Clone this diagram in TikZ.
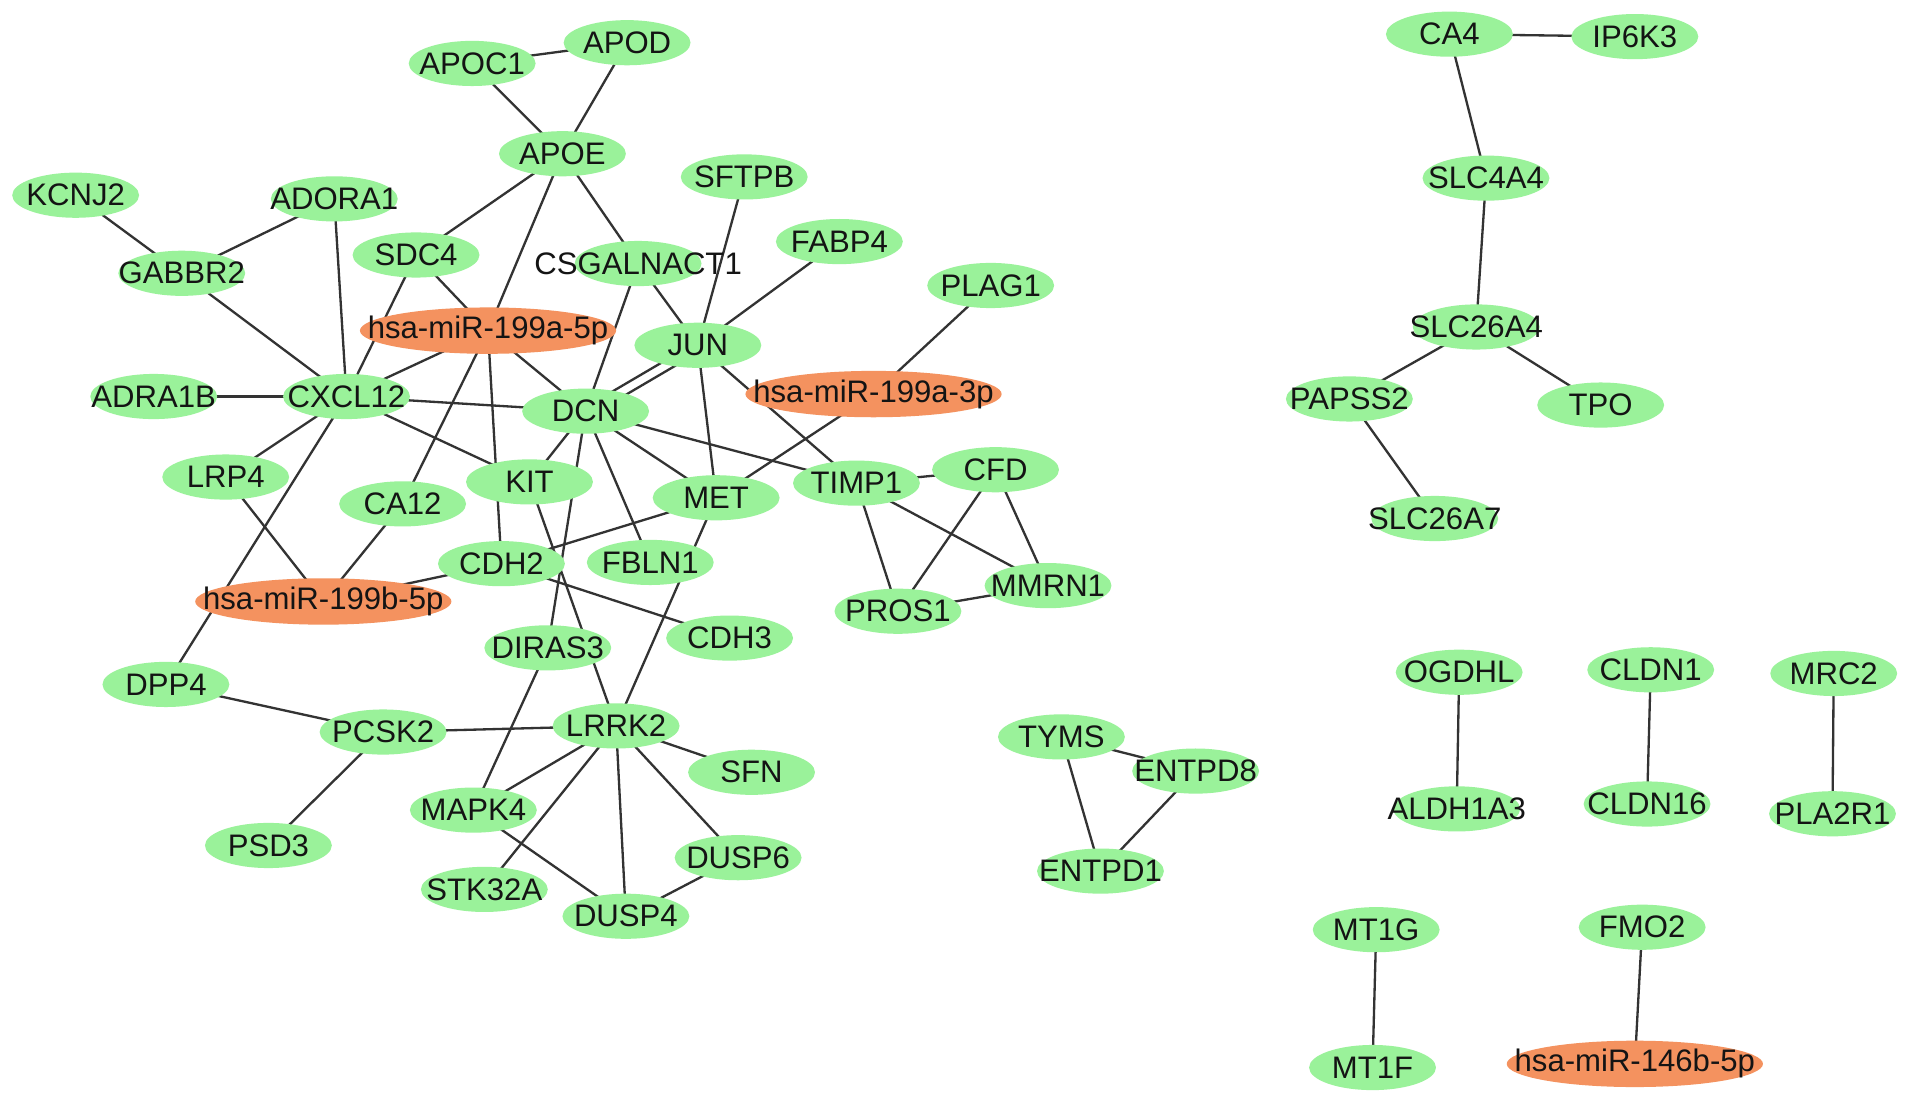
\documentclass[tikz,border=0pt]{standalone}
\usepackage{fontspec}
\setmainfont{Liberation Sans}
\usetikzlibrary{shapes.geometric,backgrounds}
\definecolor{gfill}{HTML}{9AF29A}
\definecolor{ofill}{HTML}{F4925F}
\definecolor{edgec}{HTML}{333333}
\newcommand{\Lb}[1]{\makebox[0pt]{#1}}
\tikzset{
  gn/.style={ellipse, fill=gfill, draw=none, minimum width=104pt, minimum height=37pt, inner sep=0pt, font=\fontsize{25.5}{29}\selectfont, text=black!92},
  on/.style={gn, fill=ofill, minimum width=210pt, minimum height=38pt},
  edge/.style={draw=edgec, line width=1.9pt}
}
\begin{document}
\begin{tikzpicture}[x=1pt,y=-1pt]
\useasboundingbox (0,0) rectangle (1568,905);
% nodes
\node[gn] (APOC1) at (387,52) {\Lb{APOC1}};
\node[gn] (APOD) at (514,35) {\Lb{APOD}};
\node[gn] (APOE) at (461,126) {\Lb{APOE}};
\node[gn] (KCNJ2) at (62,160) {\Lb{KCNJ2}};
\node[gn] (ADORA1) at (274,163) {\Lb{ADORA1}};
\node[gn] (SFTPB) at (610,145) {\Lb{SFTPB}};
\node[gn] (GABBR2) at (149,224) {\Lb{GABBR2}};
\node[gn] (SDC4) at (341,209) {\Lb{SDC4}};
\node[gn] (CSGAL) at (523,216) {\Lb{CSGALNACT1}};
\node[gn] (FABP4) at (688,198) {\Lb{FABP4}};
\node[gn] (PLAG1) at (812,234) {\Lb{PLAG1}};
\node[on] (MIRA5) at (400,271) {\Lb{hsa-miR-199a-5p}};
\node[gn] (JUN) at (572,283) {\Lb{JUN}};
\node[gn] (ADRA1B) at (126,325) {\Lb{ADRA1B}};
\node[gn] (CXCL12) at (284,325) {\Lb{CXCL12}};
\node[gn] (DCN) at (480,337) {\Lb{DCN}};
\node[on] (MIRA3) at (716,323) {\Lb{hsa-miR-199a-3p}};
\node[gn] (LRP4) at (185,391) {\Lb{LRP4}};
\node[gn] (CA12) at (330,413) {\Lb{CA12}};
\node[gn] (KIT) at (434,395) {\Lb{KIT}};
\node[gn] (MET) at (587,408) {\Lb{MET}};
\node[gn] (TIMP1) at (702,396) {\Lb{TIMP1}};
\node[gn] (CFD) at (816,385) {\Lb{CFD}};
\node[gn] (CDH2) at (411,462) {\Lb{CDH2}};
\node[gn] (FBLN1) at (533,461) {\Lb{FBLN1}};
\node[on] (MIRB5) at (265,493) {\Lb{hsa-miR-199b-5p}};
\node[gn] (MMRN1) at (859,480) {\Lb{MMRN1}};
\node[gn] (PROS1) at (736,501) {\Lb{PROS1}};
\node[gn] (CDH3) at (598,523) {\Lb{CDH3}};
\node[gn] (DIRAS3) at (449,531) {\Lb{DIRAS3}};
\node[gn] (DPP4) at (136,561) {\Lb{DPP4}};
\node[gn] (PCSK2) at (314,600) {\Lb{PCSK2}};
\node[gn] (LRRK2) at (505,595) {\Lb{LRRK2}};
\node[gn] (SFN) at (616,633) {\Lb{SFN}};
\node[gn] (MAPK4) at (388,664) {\Lb{MAPK4}};
\node[gn] (PSD3) at (220,693) {\Lb{PSD3}};
\node[gn] (DUSP6) at (605,703) {\Lb{DUSP6}};
\node[gn] (STK32A) at (397,729) {\Lb{STK32A}};
\node[gn] (DUSP4) at (513,751) {\Lb{DUSP4}};
\node[gn] (TYMS) at (870,604) {\Lb{TYMS}};
\node[gn] (ENTPD8) at (980,632) {\Lb{ENTPD8}};
\node[gn] (ENTPD1) at (902,714) {\Lb{ENTPD1}};
\node[gn] (CA4) at (1188,28) {\Lb{CA4}};
\node[gn] (IP6K3) at (1340,30) {\Lb{IP6K3}};
\node[gn] (SLC4A4) at (1218,146) {\Lb{SLC4A4}};
\node[gn] (SLC26A4) at (1210,268) {\Lb{SLC26A4}};
\node[gn] (PAPSS2) at (1106,327) {\Lb{PAPSS2}};
\node[gn] (TPO) at (1312,332) {\Lb{TPO}};
\node[gn] (SLC26A7) at (1176,425) {\Lb{SLC26A7}};
\node[gn] (OGDHL) at (1196,551) {\Lb{OGDHL}};
\node[gn] (ALDH1A3) at (1194,663) {\Lb{ALDH1A3}};
\node[gn] (CLDN1) at (1353,549) {\Lb{CLDN1}};
\node[gn] (CLDN16) at (1350,659) {\Lb{CLDN16}};
\node[gn] (MRC2) at (1503,552) {\Lb{MRC2}};
\node[gn] (PLA2R1) at (1502,667) {\Lb{PLA2R1}};
\node[gn] (MT1G) at (1128,762) {\Lb{MT1G}};
\node[gn] (MT1F) at (1125,875) {\Lb{MT1F}};
\node[gn] (FMO2) at (1346,760) {\Lb{FMO2}};
\node[on] (MIR146) at (1340,872) {\Lb{hsa-miR-146b-5p}};
% edges
\begin{pgfonlayer}{background}
\fill[white] (0,0) rectangle (1568,905);
\foreach \a/\b in {APOC1/APOD, APOC1/APOE, APOD/APOE, APOE/SDC4, APOE/MIRA5, APOE/CSGAL,
  CSGAL/JUN, CSGAL/DCN, SFTPB/JUN, FABP4/JUN, PLAG1/MIRA3,
  KCNJ2/GABBR2, GABBR2/ADORA1, GABBR2/CXCL12, ADORA1/CXCL12, ADRA1B/CXCL12,
  SDC4/CXCL12, SDC4/MIRA5, CXCL12/MIRA5, CXCL12/DCN, CXCL12/KIT, CXCL12/LRP4, CXCL12/DPP4,
  MIRA5/DCN, MIRA5/CA12, MIRA5/CDH2,
  JUN/TIMP1, JUN/MET, MIRA3/MET,
  DCN/MET, DCN/TIMP1, DCN/KIT, DCN/FBLN1, DCN/DIRAS3,
  KIT/LRRK2, DIRAS3/MAPK4, MET/CDH2, MET/LRRK2,
  CDH2/MIRB5, CDH2/CDH3, LRP4/MIRB5, CA12/MIRB5,
  DPP4/PCSK2, PCSK2/LRRK2, PCSK2/PSD3,
  LRRK2/MAPK4, LRRK2/STK32A, LRRK2/DUSP4, LRRK2/DUSP6, LRRK2/SFN,
  MAPK4/DUSP4, DUSP4/DUSP6,
  TIMP1/CFD, TIMP1/PROS1, TIMP1/MMRN1, CFD/PROS1, CFD/MMRN1, PROS1/MMRN1,
  TYMS/ENTPD8, TYMS/ENTPD1, ENTPD8/ENTPD1,
  CA4/IP6K3, CA4/SLC4A4, SLC4A4/SLC26A4, SLC26A4/PAPSS2, SLC26A4/TPO, PAPSS2/SLC26A7,
  OGDHL/ALDH1A3, CLDN1/CLDN16, MRC2/PLA2R1, MT1G/MT1F, FMO2/MIR146}
  {\draw[edge] (\a.center) -- (\b.center);}
\draw[edge] ([shift={(-1.4,-2.4)}]JUN.center) -- ([shift={(-1.4,-2.4)}]DCN.center);
\draw[edge] ([shift={(2.6,4.4)}]JUN.center) -- ([shift={(2.6,4.4)}]DCN.center);
\end{pgfonlayer}
\end{tikzpicture}
\end{document}
